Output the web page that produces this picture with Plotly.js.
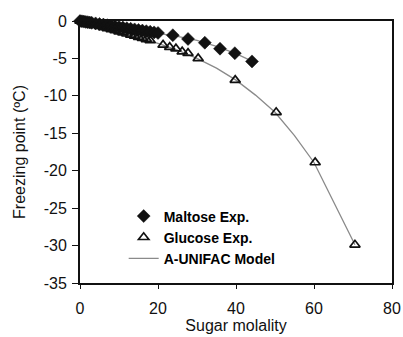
<!DOCTYPE html>
<html>
<head>
<meta charset="utf-8">
<script src="https://cdn.plot.ly/plotly-3.0.1.min.js"></script>
<style>html,body{margin:0;padding:0;background:#fff;}#chart{width:403px;height:337px;}</style>
</head>
<body>
<div id="chart"></div>
<script>
// Maltose experimental data
var maltoseX = [0, 0.5, 1, 1.5, 2, 2.5, 3, 4, 5, 6, 7, 8, 9, 10, 11, 12, 13, 14, 15, 16, 17, 18, 19, 20, 23.8, 27.7, 32, 35.9, 39.7, 44.1];
var maltoseY = [0, -0.04, -0.08, -0.12, -0.16, -0.2, -0.24, -0.32, -0.4, -0.48, -0.56, -0.64, -0.72, -0.8, -0.88, -0.96, -1.04, -1.12, -1.2, -1.28, -1.36, -1.44, -1.52, -1.6, -1.9, -2.4, -2.9, -3.7, -4.3, -5.4];
// Glucose experimental data
var glucoseX = [0, 0.5, 1, 2, 3, 4, 5, 6, 7, 8, 9, 10, 11, 12, 13, 14, 15, 16, 17, 18, 21.3, 23, 24.6, 26.2, 27.7, 30.3, 39.8, 50.3, 60.3, 70.5];
var glucoseY = [0, -0.07, -0.14, -0.28, -0.42, -0.56, -0.7, -0.84, -0.98, -1.12, -1.27, -1.41, -1.56, -1.7, -1.85, -2.0, -2.15, -2.3, -2.45, -2.6, -3.2, -3.5, -3.7, -4.1, -4.3, -5.0, -7.9, -12.2, -18.9, -29.9];
// A-UNIFAC model curves
var modelGlucoseX = [0, 5, 10, 15, 20, 25, 30, 35, 40, 45, 50, 55, 60, 65, 70.5];
var modelGlucoseY = [0, -0.7, -1.4, -2.2, -3.0, -3.9, -5.0, -6.3, -7.9, -9.9, -12.2, -15.3, -18.9, -24.2, -29.9];
var modelMaltoseX = [0, 5, 10, 15, 20, 25, 30, 35, 40, 44.1];
var modelMaltoseY = [0, -0.4, -0.8, -1.2, -1.6, -2.05, -2.6, -3.4, -4.35, -5.35];
// Axis ticks
var xTicks = [0, 20, 40, 60, 80];
var yTicks = [0, -5, -10, -15, -20, -25, -30, -35];

var lineStyle = {color: '#8a8a8a', width: 1.3};
var traces = [
  {x: modelMaltoseX, y: modelMaltoseY, mode: 'lines', line: lineStyle, showlegend: false, hoverinfo: 'skip'},
  {x: modelGlucoseX, y: modelGlucoseY, mode: 'lines', line: lineStyle, name: 'A-UNIFAC Model', legendrank: 3},
  {x: maltoseX, y: maltoseY, mode: 'markers', name: 'Maltose Exp.', legendrank: 1, cliponaxis: false,
   marker: {symbol: 'diamond', size: 10, color: '#111', line: {color: '#111', width: 0.5}}},
  {x: glucoseX, y: glucoseY, mode: 'markers', name: 'Glucose Exp.', legendrank: 2, cliponaxis: false,
   marker: {symbol: 'triangle-up-open', size: 9, color: '#111', line: {color: '#111', width: 1.7}}}
];

var axisFont = {family: 'Liberation Sans, Arial, sans-serif', size: 16, color: '#111'};
var layout = {
  width: 403, height: 337,
  margin: {l: 80, r: 11, t: 21, b: 54},
  paper_bgcolor: '#fff', plot_bgcolor: '#fff',
  showlegend: true,
  legend: {x: 0.14, y: 0.315, xanchor: 'left', yanchor: 'top', bgcolor: 'rgba(0,0,0,0)',
    font: {family: 'Liberation Sans Narrow, Liberation Sans, sans-serif', size: 14, color: '#000', weight: 'bold'},
    tracegroupgap: 0},
  xaxis: {range: [0, 80], tickvals: xTicks, ticktext: xTicks.map(String), showgrid: false, zeroline: false,
    showline: true, linecolor: '#111', linewidth: 2, mirror: true,
    ticks: 'outside', ticklen: 4, tickcolor: '#111', tickfont: axisFont, ticklabelstandoff: 6,
    title: {text: 'Sugar molality', font: axisFont, standoff: 0}},
  yaxis: {range: [-35, 0], tickvals: yTicks, ticktext: yTicks.map(String), showgrid: false, zeroline: false,
    showline: true, linecolor: '#111', linewidth: 2, mirror: true,
    ticks: 'outside', ticklen: 6, tickcolor: '#111', tickfont: axisFont, ticklabelstandoff: 2,
    title: {text: 'Freezing point (ºC)', font: axisFont, standoff: 14}}
};
Plotly.newPlot('chart', traces, layout, {displayModeBar: false, staticPlot: true});
</script>
</body>
</html>
